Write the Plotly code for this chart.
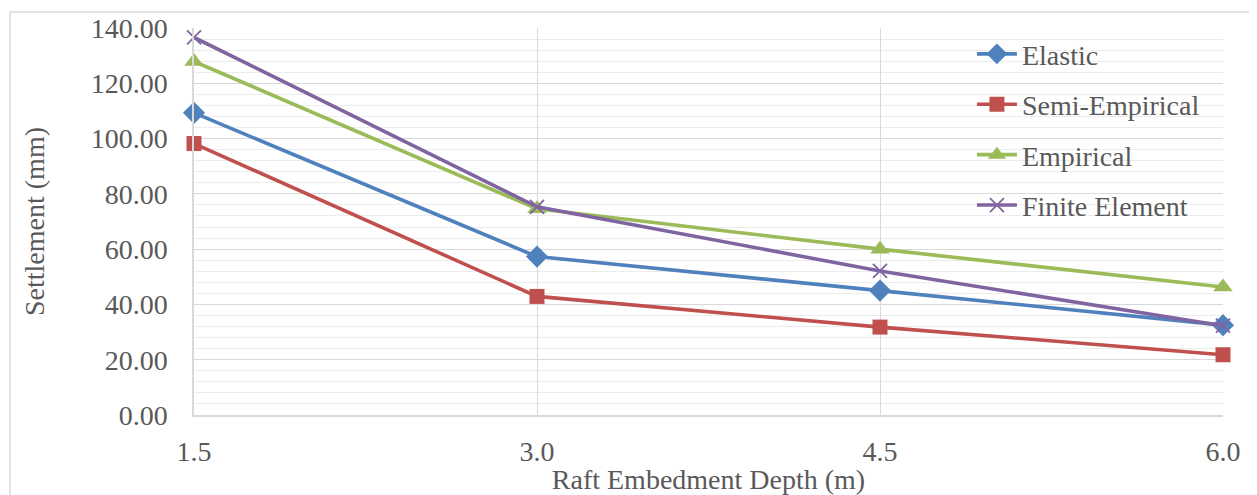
import plotly.graph_objects as go

depth = [1.5, 3.0, 4.5, 6.0]
elastic = [109.3, 57.3, 45.0, 32.5]
semi_empirical = [98.2, 42.9, 31.8, 21.8]
empirical = [127.9, 74.6, 60.0, 46.3]
finite_element = [136.6, 75.3, 52.1, 32.3]

x_ticks = [1.5, 3.0, 4.5, 6.0]
y_ticks = [0, 20, 40, 60, 80, 100, 120, 140]

series = [
    ("Elastic", elastic, "#4F81BD", "diamond", 17),
    ("Semi-Empirical", semi_empirical, "#C0504D", "square", 15),
    ("Empirical", empirical, "#9BBB59", "triangle-up", 17),
    ("Finite Element", finite_element, "#8064A2", "x-thin", 14),
]

fig = go.Figure()
for i, (name, vals, color, sym, size) in enumerate(series):
    marker = dict(symbol=sym, size=size, color=color)
    if sym == "x-thin":
        marker["line"] = dict(color=color, width=1.8)
    fig.add_trace(go.Scatter(
        x=depth, y=vals, name=name, mode="lines+markers",
        line=dict(color=color, width=3.6), marker=marker,
        legendgroup="g%d" % i, cliponaxis=False,
    ))

font_color = "#595959"
FS = 28
fig.update_layout(
    width=1249, height=487,
    margin=dict(l=186, r=34, t=20, b=80),
    paper_bgcolor="white", plot_bgcolor="white",
    font=dict(family="Liberation Serif, Times New Roman, serif", size=FS, color=font_color),
    showlegend=True,
    legend=dict(
        x=0.756, y=0.997, xanchor="left", yanchor="top",
        bgcolor="rgba(0,0,0,0)", tracegroupgap=11,
        font=dict(size=FS, color=font_color), itemwidth=40,
    ),
    shapes=[dict(
        type="rect", xref="paper", yref="paper",
        x0=-0.1788, x1=1.2, y0=-0.5, y1=1.0413,
        line=dict(color="#d9d9d9", width=1.5), fillcolor="rgba(0,0,0,0)", layer="below",
    )],
)
fig.update_xaxes(
    range=[1.5, 6.0], tickvals=x_ticks, ticktext=["%.1f" % v for v in x_ticks],
    showgrid=True, gridcolor="#d9d9d9", gridwidth=1.2,
    showline=True, linecolor="#d9d9d9", linewidth=1.5, mirror=False,
    zeroline=False, ticks="", ticklabelstandoff=11, automargin=False,
    title=dict(text="Raft Embedment Depth (m)", font=dict(size=FS, color=font_color), standoff=5),
)
fig.update_yaxes(
    range=[0, 140], tickvals=y_ticks, ticktext=["%.2f" % v for v in y_ticks],
    showgrid=True, gridcolor="#d9d9d9", gridwidth=1.2,
    minor=dict(dtick=4, showgrid=True, gridcolor="#ececec", gridwidth=1.2),
    showline=True, linecolor="#d9d9d9", linewidth=1.5,
    zeroline=False, ticks="", ticklabelstandoff=19, automargin=False,
    title=dict(text="Settlement (mm)", font=dict(size=FS, color=font_color), standoff=38),
)

fig.write_html("out.html")
